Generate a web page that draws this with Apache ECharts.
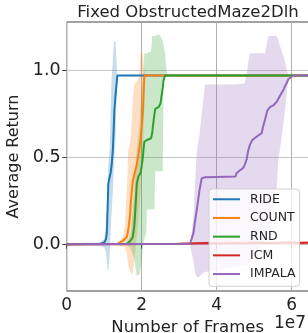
<!DOCTYPE html>
<html><head><meta charset="utf-8">
<script src="https://cdn.jsdelivr.net/npm/echarts@6/dist/echarts.min.js"></script>
<style>html,body{margin:0;padding:0;background:#fff}#c{width:308px;height:333px}</style>
</head><body><div id="c"></div>
<script>
// ---- data (x in units of 1e7 frames) ----
const methods = ['RIDE', 'COUNT', 'RND', 'ICM', 'IMPALA'];
const colors = ['#1f77b4', '#ff7f0e', '#2ca02c', '#d62728', '#9467bd'];

const rideX    = [0, 0.9, 1.0, 1.05, 1.07, 1.09, 1.11, 1.15, 1.17, 1.2, 1.23, 1.26, 1.27, 1.3, 1.32, 1.35, 1.4, 6.45];
const rideMean = [0, 0.002, 0.01, 0.03, 0.065, 0.2, 0.35, 0.39, 0.41, 0.46, 0.54, 0.7, 0.77, 0.85, 0.9, 0.972, 0.972, 0.972];
const rideHi   = [0.005, 0.01, 0.03, 0.1, 0.2, 0.3, 0.45, 0.55, 0.76, 0.97, 1.05, 1.17, 1.17, 1.17, 1.08, 0.975, 0.972, 0.972];
const rideLo   = [-0.005, -0.01, -0.02, -0.05, -0.1, -0.15, -0.15, -0.05, 0.06, 0.2, 0.3, 0.45, 0.5, 0.6, 0.8, 0.96, 0.972, 0.972];

const countX    = [0, 1.35, 1.5, 1.55, 1.6, 1.62, 1.64, 1.68, 1.71, 1.76, 1.8, 1.87, 1.93, 1.97, 2.03, 2.07, 2.1, 6.45];
const countMean = [0, 0.002, 0.02, 0.03, 0.04, 0.05, 0.08, 0.15, 0.24, 0.36, 0.40, 0.46, 0.54, 0.60, 0.76, 0.972, 0.972, 0.972];
const countHi   = [0.005, 0.005, 0.04, 0.1, 0.3, 0.4, 0.54, 0.58, 0.62, 0.82, 0.92, 0.94, 0.96, 1.1, 1.1, 1.0, 0.972, 0.972];
const countLo   = [-0.005, -0.005, -0.01, -0.02, -0.05, -0.08, -0.12, -0.15, -0.17, -0.17, -0.1, 0.05, 0.2, 0.3, 0.5, 0.8, 0.972, 0.972];

const rndX    = [0, 1.6, 1.7, 1.76, 1.8, 1.82, 1.87, 1.91, 1.95, 1.97, 2.0, 2.03, 2.05, 2.07, 2.12, 2.14, 2.25, 2.28, 2.3, 2.34, 2.36, 2.45, 2.5, 2.56, 2.58, 2.62, 2.66, 2.7, 6.45];
const rndMean = [0, 0.002, 0.02, 0.04, 0.1, 0.16, 0.35, 0.39, 0.40, 0.41, 0.45, 0.50, 0.55, 0.59, 0.60, 0.60, 0.61, 0.64, 0.68, 0.75, 0.78, 0.79, 0.81, 0.9, 0.94, 0.972, 0.972, 0.972, 0.972];
const rndHi   = [0.005, 0.005, 0.05, 0.2, 0.3, 0.4, 0.55, 0.62, 0.7, 0.8, 0.88, 0.95, 1.0, 1.1, 1.1, 1.1, 1.11, 1.2, 1.2, 1.2, 1.2, 1.21, 1.2, 1.17, 1.15, 1.1, 1.0, 0.972, 0.972];
const rndLo   = [-0.005, -0.005, -0.02, -0.06, -0.08, -0.12, -0.18, -0.18, -0.17, -0.14, -0.08, -0.03, 0.0, 0.03, 0.065, 0.2, 0.2, 0.2, 0.2, 0.2, 0.42, 0.42, 0.42, 0.42, 0.93, 0.972, 0.972, 0.972, 0.972];

const icmX    = [0, 0.5, 1, 1.5, 2, 2.5, 3, 3.5, 3.8, 4.1, 4.4, 4.7, 5.0, 5.3, 5.6, 5.9, 6.2, 6.45];
const icmMean = [0, 0, 0, 0, 0.001, 0.001, 0.002, 0.005, 0.006, 0.004, 0.007, 0.005, 0.008, 0.006, 0.007, 0.009, 0.006, 0.008];
const icmHi   = [0.003, 0.003, 0.004, 0.004, 0.005, 0.006, 0.008, 0.012, 0.014, 0.011, 0.016, 0.013, 0.018, 0.015, 0.017, 0.02, 0.016, 0.018];
const icmLo   = [-0.003, -0.002, -0.002, -0.002, -0.002, -0.002, -0.002, -0.002, -0.002, -0.003, -0.002, -0.003, -0.002, -0.003, -0.002, -0.002, -0.003, -0.002];

const impalaX    = [0, 3.29, 3.31, 3.38, 3.42, 3.47, 3.54, 3.6, 3.69, 4.0, 4.5, 4.53, 4.71, 4.75, 4.8, 4.84, 4.89, 4.95, 5.07, 5.2, 5.24, 5.29, 5.35, 5.38, 5.42, 5.51, 5.6, 5.65, 5.69, 5.78, 5.82, 5.87, 5.91, 6.04, 6.45];
const impalaMean = [0, 0.002, 0.01, 0.065, 0.13, 0.2, 0.31, 0.38, 0.385, 0.387, 0.39, 0.41, 0.44, 0.46, 0.49, 0.54, 0.575, 0.6, 0.62, 0.64, 0.68, 0.72, 0.77, 0.78, 0.79, 0.80, 0.82, 0.84, 0.85, 0.89, 0.91, 0.93, 0.95, 0.972, 0.972];
const impalaHi   = [0.005, 0.005, 0.02, 0.16, 0.35, 0.54, 0.63, 0.75, 0.92, 0.92, 0.92, 0.92, 0.925, 0.93, 0.975, 1.05, 1.1, 1.1, 1.1, 1.1, 1.1, 1.1, 1.17, 1.2, 1.2, 1.2, 1.2, 1.17, 1.14, 1.08, 1.05, 1.0, 0.975, 0.972, 0.972];
const impalaLo   = [-0.005, -0.005, -0.03, -0.1, -0.16, -0.19, -0.19, -0.17, -0.16, -0.15, -0.13, -0.13, -0.12, -0.12, -0.12, -0.11, -0.1, -0.08, -0.04, 0.0, 0.02, 0.04, 0.06, 0.07, 0.09, 0.2, 0.33, 0.5, 0.55, 0.7, 0.77, 0.88, 0.95, 0.972, 0.972];

const xTicks = [0, 2, 4, 6];
const yTicks = [0, 0.5, 1.0];

// ---- chart ----
const FONT = 'DejaVu Sans';
const groups = [
  [rideX, rideMean, rideHi, rideLo],
  [countX, countMean, countHi, countLo],
  [rndX, rndMean, rndHi, rndLo],
  [icmX, icmMean, icmHi, icmLo],
  [impalaX, impalaMean, impalaHi, impalaLo]
];

const series = [];
groups.forEach(function (g, k) {
  const xs = g[0], mean = g[1], hi = g[2], lo = g[3];
  series.push({
    type: 'custom', name: methods[k] + ' band', silent: true,
    data: [[xs[0], mean[0]]],
    renderItem: function (params, api) {
      const pts = [];
      for (let i = 0; i < xs.length; i++) pts.push(api.coord([xs[i], hi[i]]));
      for (let i = xs.length - 1; i >= 0; i--) pts.push(api.coord([xs[i], lo[i]]));
      return { type: 'polygon', shape: { points: pts }, style: { fill: colors[k], opacity: 0.25 } };
    }
  });
  series.push({
    type: 'line', name: methods[k], showSymbol: false, symbol: 'none',
    data: xs.map(function (x, i) { return [x, mean[i]]; }),
    lineStyle: { color: colors[k], width: 2 }, itemStyle: { color: colors[k] }
  });
});

const chart = echarts.init(document.getElementById('c'), null, { renderer: 'canvas' });
chart.setOption({
  animation: false,
  backgroundColor: '#fff',
  grid: { left: 66.7, top: 22, width: 241.9, height: 269, show: true, borderColor: '#444', borderWidth: 1,
          containLabel: false, outerBoundsMode: 'none' },
  xAxis: {
    type: 'value', min: 0, max: 6.45,
    axisLine: { show: false },
    axisTick: { show: true, customValues: xTicks, length: 4.5, lineStyle: { color: '#444' } },
    axisLabel: { customValues: xTicks, fontSize: 17, fontFamily: FONT, color: '#222', margin: 6, formatter: function (v) { return String(v); } },
    splitLine: { show: true, lineStyle: { color: '#b0b0b0', width: 1 } },
    name: 'Number of Frames', nameLocation: 'middle', nameGap: 24,
    nameTextStyle: { fontSize: 16.5, fontFamily: FONT, color: '#222' }
  },
  yAxis: {
    type: 'value', min: -0.27, max: 1.28,
    axisLine: { show: false },
    axisTick: { show: true, customValues: yTicks, length: 4.5, lineStyle: { color: '#444' } },
    axisLabel: { customValues: yTicks, fontSize: 17.5, fontFamily: FONT, color: '#222', margin: 6, formatter: function (v) { return v.toFixed(1); } },
    splitLine: { show: true, lineStyle: { color: '#c8c8c8', width: 1 } },
    name: 'Average Return', nameLocation: 'middle', nameGap: 38,
    nameTextStyle: { fontSize: 16, fontFamily: FONT, color: '#222' }
  },
  legend: {
    data: methods, orient: 'vertical', left: 209, top: 189,
    icon: 'rect', itemWidth: 27, itemHeight: 2, itemGap: 4.2,
    padding: [3, 4, 5, 4],
    backgroundColor: 'rgba(255,255,255,0.8)', borderColor: '#d0d0d0', borderWidth: 1, borderRadius: 3,
    textStyle: { fontSize: 12.5, lineHeight: 14.5, fontFamily: FONT, color: '#262626', padding: [0, 0, 0, 5] },
    selectedMode: false
  },
  graphic: [
    { type: 'text', x: 188, y: 12.5, style: { text: 'Fixed ObstructedMaze2Dlh', font: '16.5px "DejaVu Sans"', fill: '#222', align: 'center', verticalAlign: 'middle' } },
    { type: 'text', x: 306, y: 324, style: { text: '1e7', font: '17px "DejaVu Sans"', fill: '#222', align: 'right', verticalAlign: 'middle' } }
  ],
  series: series
});
</script>
</body></html>
